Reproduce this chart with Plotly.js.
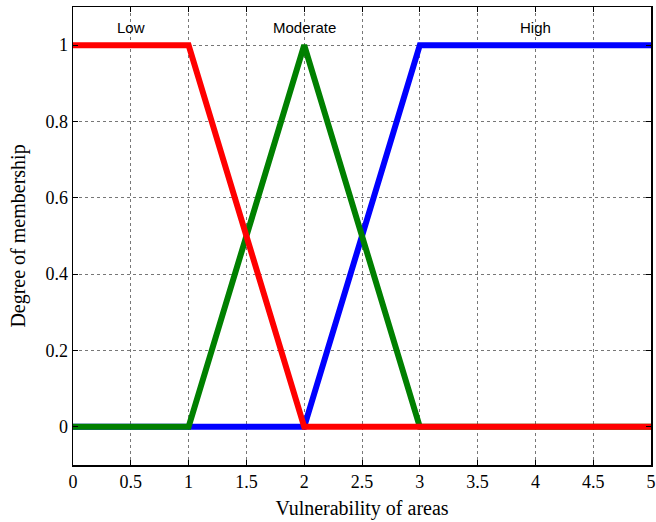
<!DOCTYPE html>
<html>
<head>
<script src="https://cdn.plot.ly/plotly-3.0.1.min.js"></script>
<style>html,body{margin:0;padding:0;background:#fff}</style>
</head>
<body>
<div id="chart" style="width:656px;height:522px"></div>
<script>
const xLow = [0, 1, 2, 5];
const yLow = [1, 1, 0, 0];
const xModerate = [0, 1, 2, 3, 5];
const yModerate = [0, 0, 1, 0, 0];
const xHigh = [0, 2, 3, 5];
const yHigh = [0, 0, 1, 1];
const labelNames = ["Low", "Moderate", "High"];
const labelX = [0.5, 2.0, 4.0];
const labelY = [1.047, 1.047, 1.047];
const xTicks = [0, 0.5, 1, 1.5, 2, 2.5, 3, 3.5, 4, 4.5, 5];
const yTicks = [0, 0.2, 0.4, 0.6, 0.8, 1];

const SERIF = 'Liberation Serif';

const traces = [
  {x: xHigh, y: yHigh, mode: 'lines', line: {color: '#0000ff', width: 6}, name: 'High'},
  {x: xModerate, y: yModerate, mode: 'lines', line: {color: '#008000', width: 6}, name: 'Moderate'},
  {x: xLow, y: yLow, mode: 'lines', line: {color: '#ff0000', width: 6}, name: 'Low'}
];

function axis(extra) {
  return Object.assign({
    showline: true, linecolor: '#000', linewidth: 1.5, mirror: 'ticks',
    ticks: 'inside', ticklen: 5, tickcolor: '#000',
    showgrid: true, gridcolor: '#777', griddash: 'dot', gridwidth: 1,
    zeroline: false,
    tickfont: {family: SERIF, size: 18, color: '#000'}
  }, extra);
}

const layout = {
  width: 656, height: 522,
  margin: {l: 73, r: 5, t: 7, b: 57},
  paper_bgcolor: '#fff', plot_bgcolor: '#fff',
  font: {family: SERIF, size: 18, color: '#000'},
  showlegend: false,
  xaxis: axis({
    range: [0, 5], tickvals: xTicks, ticktext: xTicks.map(String),
    title: {text: 'Vulnerability of areas', font: {family: SERIF, size: 20, color: '#000'}, standoff: 10}
  }),
  yaxis: axis({
    range: [-0.1, 1.1], tickvals: yTicks, ticktext: yTicks.map(String),
    title: {text: 'Degree of membership', font: {family: SERIF, size: 20, color: '#000'}, standoff: 14}
  }),
  annotations: labelNames.map((t, i) => ({
    x: labelX[i], y: labelY[i], xref: 'x', yref: 'y', text: t, showarrow: false,
    font: {family: 'Liberation Sans', size: 15, color: '#000'}
  }))
};

Plotly.newPlot('chart', traces, layout, {displayModeBar: false, staticPlot: true});
</script>
</body>
</html>
